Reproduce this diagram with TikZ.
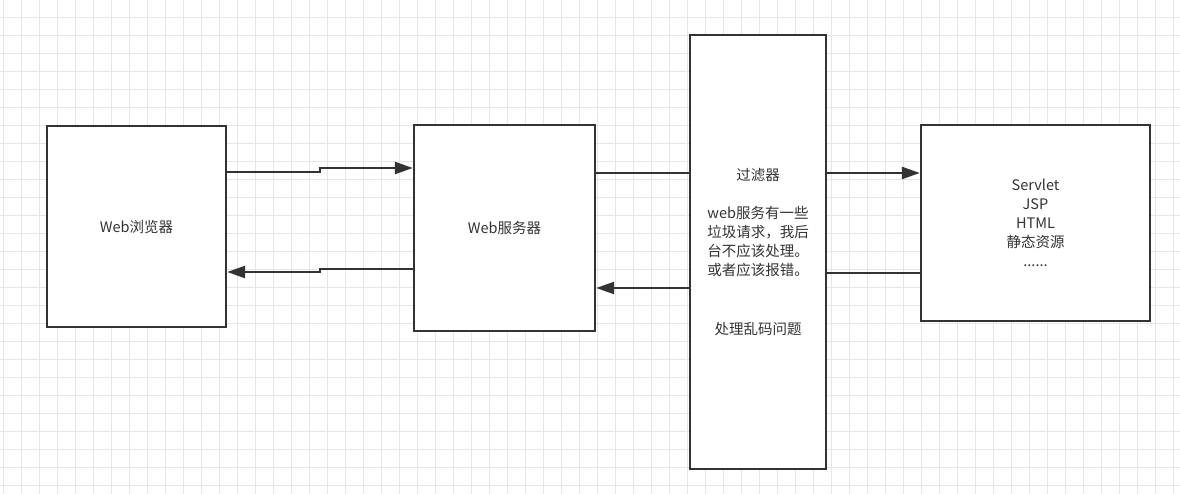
\documentclass[tikz,border=0pt]{standalone}
\usepackage{fontspec}
\setmainfont{Noto Sans CJK SC}
\usetikzlibrary{arrows.meta}
\definecolor{linegray}{HTML}{333333}
\definecolor{gridgray}{HTML}{E6E6E6}

\begin{document}
\begin{tikzpicture}[x=1pt,y=-1pt,
  box/.style={draw=linegray, line width=2.3pt, fill=white, align=center,
    text=linegray, font=\fontsize{14.5}{19}\selectfont},
  conn/.style={draw=linegray, line width=2.4pt},
  arr/.style={conn, -{Triangle[length=18pt,width=12pt]}}]
\useasboundingbox (0,0) rectangle (1180,494);
\fill[white] (0,0) rectangle (1180,494);
% grid
\foreach \x in {3,21,...,1180} \draw[gridgray, line width=0.9pt] (\x,0) -- (\x,494);
\foreach \y in {17,35,...,494} \draw[gridgray, line width=0.9pt] (0,\y) -- (1180,\y);

\node[box, minimum width=179pt, minimum height=201pt] (brw) at (136.5,226.5) {Web浏览器};
\node[box, minimum width=181pt, minimum height=206pt] (srv) at (504.5,228) {Web服务器};
\node[box, minimum width=136pt, minimum height=434pt] (flt) at (758,252)
  {过滤器\\[19pt]
   web服务有一些\\垃圾请求，我后\\台不应该处理。\\或者应该报错。\\[40pt]
   处理乱码问题};
\node[box, minimum width=229pt, minimum height=196pt] (res) at (1035.5,223)
  {Servlet\\JSP\\HTML\\静态资源\\......};

% request / response
\draw[arr] (brw.east |- 0,172) -- (320,172) -- (320,168) -- (srv.west |- 0,168);
\draw[arr] (srv.west |- 0,269) -- (320,269) -- (320,272) -- (brw.east |- 0,272);
\draw[conn] (srv.east |- 0,173) -- (flt.west |- 0,173);
\draw[arr] (flt.west |- 0,288) -- (srv.east |- 0,288);
\draw[arr] (flt.east |- 0,173) -- (res.west |- 0,173);
\draw[conn] (res.west |- 0,273) -- (flt.east |- 0,273);
\end{tikzpicture}
\end{document}
